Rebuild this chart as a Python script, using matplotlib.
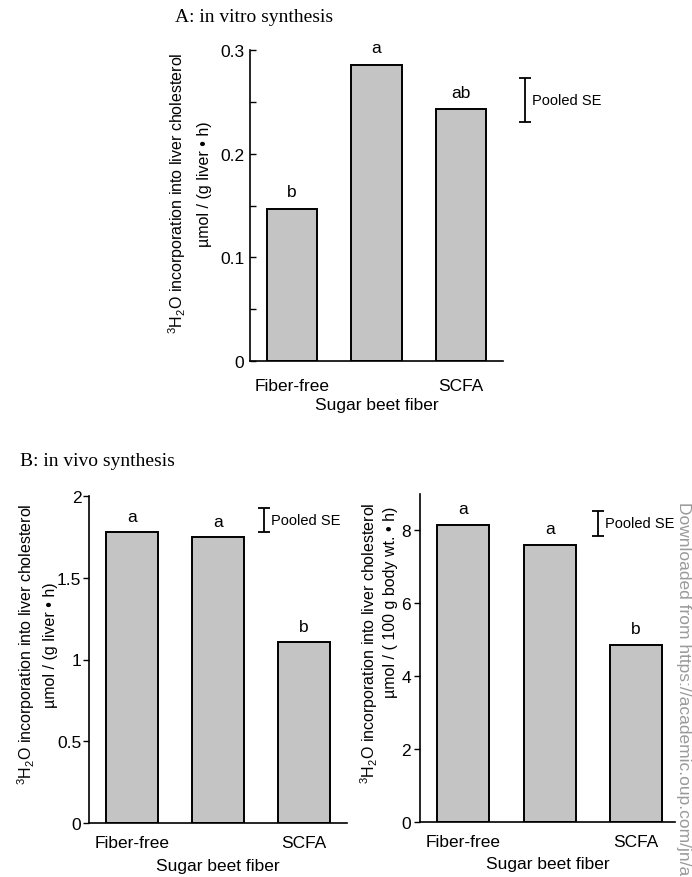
import numpy as np
import matplotlib.pyplot as plt

plt.rcParams['font.family'] = ['Liberation Sans', 'DejaVu Sans']
plt.rcParams['mathtext.default'] = 'regular'

# data
groups = ['Fiber-free', 'Sugar beet fiber', 'SCFA']
tick_labels = ['Fiber-free', '', 'SCFA']
vitro = [0.147, 0.286, 0.243]
vitro_letters = ['b', 'a', 'ab']
vitro_se = 0.042
vivo_liver = [1.78, 1.75, 1.11]
vivo_liver_letters = ['a', 'a', 'b']
vivo_liver_se = 0.15
vivo_body = [8.15, 7.6, 4.85]
vivo_body_letters = ['a', 'a', 'b']
vivo_body_se = 0.69

W, H = 692, 878
fig = plt.figure(figsize=(W / 100, H / 100), dpi=100)


def box(l, t, r, b):
    return [l / W, 1 - b / H, (r - l) / W, (b - t) / H]


def draw(ax, vals, letters, se, se_x, se_y, ylim, yticks, tdir, pad, off, lpad):
    x = np.arange(len(vals))
    ax.bar(x, vals, width=0.6, color='#c4c4c4', edgecolor='black', linewidth=1.4)
    for xi, v, s in zip(x, vals, letters):
        ax.annotate(s, (xi, v), xytext=(0, off), textcoords='offset points',
                    ha='center', va='center', fontsize=12.5)
    ax.errorbar([se_x], [se_y], yerr=[se / 2], fmt='none', ecolor='black',
                elinewidth=1.3, capsize=4, capthick=1.3, clip_on=False)
    ax.annotate('Pooled SE', (se_x, se_y), xytext=(5, 0), textcoords='offset points',
                ha='left', va='center', fontsize=10.5, annotation_clip=False)
    ax.set_ylim(*ylim)
    ax.set_yticks(yticks, [('%g' % t) for t in yticks])
    ax.set_xticks(x, tick_labels)
    for s in ['top', 'right']:
        ax.spines[s].set_visible(False)
    for s in ['left', 'bottom']:
        ax.spines[s].set_linewidth(1.2)
    ax.tick_params(axis='y', direction=tdir, length=4.5, width=1.0, labelsize=12.5, pad=pad)
    ax.tick_params(axis='x', length=0, labelsize=12.5, pad=9)
    ax.set_xlabel('Sugar beet fiber', fontsize=12.5, labelpad=lpad)


# A: in vitro
axA = fig.add_axes(box(250, 51, 503, 362))
draw(axA, vitro, vitro_letters, vitro_se, 2.76, 0.252, (0, 0.3),
     [0, 0.1, 0.2, 0.3], 'in', 4, 12, 3)
axA.set_xlim(-0.5, 2.5)
axA.set_yticks([0.05, 0.15, 0.25], minor=True)
axA.tick_params(axis='y', which='minor', direction='in', length=4.5, width=1.0)
axA.tick_params(axis='x', pad=12)

# B: in vivo, per g liver
axB1 = fig.add_axes(box(89, 497, 347, 824))
draw(axB1, vivo_liver, vivo_liver_letters, vivo_liver_se, 1.535, 1.852, (0, 2),
     [0, 0.5, 1, 1.5, 2], 'out', 1, 11, 5.5)
axB1.set_xlim(-0.5, 2.5)

# B: in vivo, per 100 g body wt.
axB2 = fig.add_axes(box(420, 495, 675, 823))
draw(axB2, vivo_body, vivo_body_letters, vivo_body_se, 1.56, 8.2, (0, 9),
     [0, 2, 4, 6, 8], 'out', 2, 12, 4.5)
axB2.set_xlim(-0.5, 2.45)

# y labels, two lines each
lab1 = '$^{3}$H$_{2}$O incorporation into liver cholesterol'
fig.text(177 / W, 1 - 193 / H, lab1, rotation=90, ha='center', va='center', fontsize=11.5)
fig.text(204 / W, 1 - 184 / H, 'µmol / (g liver • h)', rotation=90, ha='center', va='center', fontsize=11.5)
fig.text(26 / W, 1 - 644 / H, lab1, rotation=90, ha='center', va='center', fontsize=11.5)
fig.text(50 / W, 1 - 645 / H, 'µmol / (g liver • h)', rotation=90, ha='center', va='center', fontsize=11.5)
fig.text(369 / W, 1 - 643 / H, lab1, rotation=90, ha='center', va='center', fontsize=11.5)
fig.text(390 / W, 1 - 602 / H, 'µmol / ( 100 g body wt. • h)', rotation=90, ha='center', va='center', fontsize=11.5)

# panel titles
fig.text(175 / W, 1 - 18 / H, 'A: in vitro synthesis', ha='left', va='center',
         fontsize=14, family=['Liberation Serif', 'DejaVu Serif'])
fig.text(20 / W, 1 - 462 / H, 'B: in vivo synthesis', ha='left', va='center',
         fontsize=14, family=['Liberation Serif', 'DejaVu Serif'])

# watermark strip
fig.text(684 / W, 1 - 502 / H, 'Downloaded from https://academic.oup.com/jn/a',
         rotation=-90, ha='center', va='top', fontsize=12.5, color='#9a9a9a')

fig.savefig('out.png', dpi=100)
